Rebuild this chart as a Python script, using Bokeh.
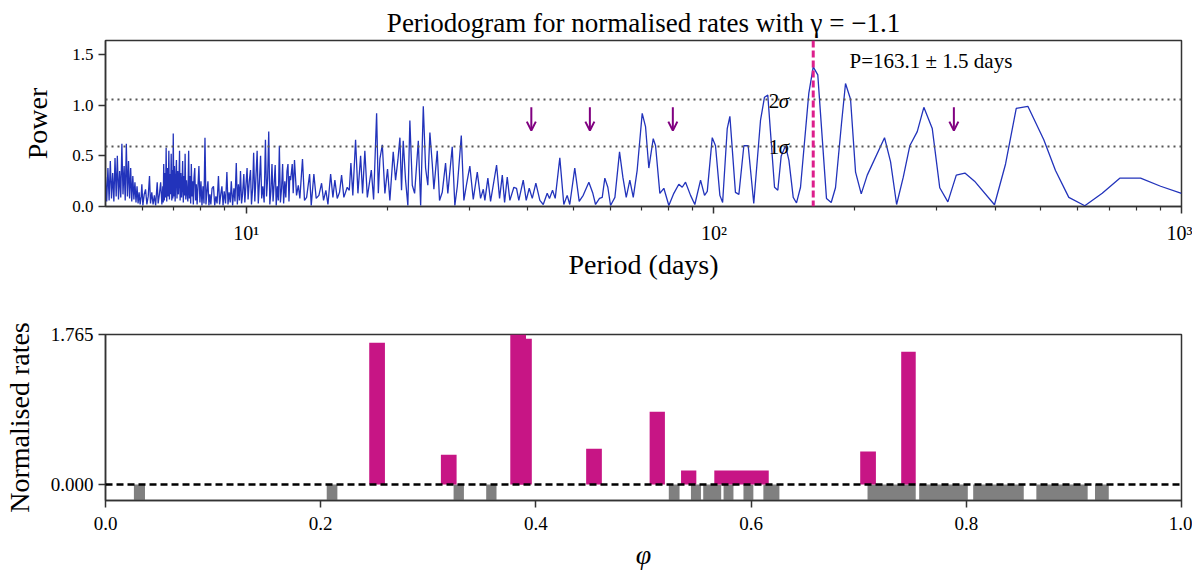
from bokeh.plotting import figure
from bokeh.layouts import column
from bokeh.models import (Span, Arrow, OpenHead, Label, FixedTicker,
                          PrintfTickFormatter, ColumnDataSource)
from bokeh.core.properties import value
from bokeh.embed import file_html
from bokeh.resources import INLINE

SERIF = "Liberation Serif"
AXIS_COL = "#333333"
BLUE = "#2233bb"
PINK = "#dd1f8c"
BAR_PINK = "#c71585"
PURPLE = "#800080"

# periodogram
period = [
    5.00, 5.03, 5.06, 5.09, 5.12, 5.15, 5.18, 5.21, 5.24, 5.27,
    5.30, 5.33, 5.36, 5.39, 5.42, 5.45, 5.48, 5.51, 5.54, 5.57,
    5.60, 5.63, 5.66, 5.69, 5.72, 5.75, 5.78, 5.81, 5.84, 5.87,
    5.90, 5.93, 5.96, 5.98, 6.01, 6.05, 6.09, 6.13, 6.17, 6.21,
    6.24, 6.28, 6.32, 6.36, 6.40, 6.45, 6.48, 6.52, 6.56, 6.60,
    6.63, 6.645, 6.66, 6.68, 6.70, 6.72, 6.74, 6.76, 6.785, 6.81,
    6.83, 6.85, 6.87, 6.89, 6.91, 6.93, 6.955, 6.965, 6.98, 7.00,
    7.02, 7.045, 7.07, 7.09, 7.11, 7.135, 7.16, 7.18, 7.20, 7.22,
    7.245, 7.27, 7.29, 7.31, 7.335, 7.36, 7.38, 7.40, 7.425, 7.45,
    7.47, 7.50, 7.53, 7.555, 7.58, 7.605, 7.63, 7.655, 7.68, 7.705,
    7.73, 7.76, 7.79, 7.82, 7.85, 7.88, 7.92, 7.96, 8.00, 8.04,
    8.08, 8.12, 8.16, 8.20, 8.24, 8.28, 8.32, 8.36, 8.40, 8.45,
    8.51, 8.56, 8.61, 8.66, 8.72, 8.77, 8.82, 8.87, 8.92, 8.97,
    9.03, 9.09, 9.14, 9.19, 9.24, 9.29, 9.35, 9.41, 9.46, 9.52,
    9.57, 9.62, 9.67, 9.72, 9.77, 9.82, 9.88, 9.93, 9.98, 10.04,
    10.09, 10.15, 10.21, 10.26, 10.32, 10.37, 10.43, 10.49, 10.55, 10.61,
    10.67, 10.73, 10.79, 10.85, 10.92, 10.99, 11.05, 11.11, 11.17, 11.23,
    11.29, 11.35, 11.41, 11.47, 11.53, 11.59, 11.65, 11.71, 11.77, 11.83,
    11.90, 11.96, 12.02, 12.09, 12.15, 12.22, 12.28, 12.34, 12.39, 12.44,
    12.54, 12.60, 12.68, 12.81, 12.92, 13.02, 13.19, 13.32, 13.46, 13.66,
    13.77, 13.95, 14.11, 14.30, 14.49, 14.63, 14.80, 14.95, 15.15, 15.32,
    15.47, 15.65, 15.83, 15.99, 16.17, 16.44, 16.61, 16.74, 16.90, 17.13,
    17.33, 17.56, 17.73, 17.93, 18.15, 18.51, 18.72, 19.00, 19.16, 19.31,
    19.54, 19.79, 20.05, 20.28, 20.62, 20.86, 21.10, 21.31, 21.48, 21.66,
    21.91, 22.16, 22.38, 22.65, 22.91, 23.33, 23.60, 23.91, 24.18, 24.45,
    24.70, 24.99, 25.19, 25.61, 25.90, 26.25, 26.68, 26.98, 27.57, 27.93,
    28.27, 28.83, 29.20, 29.59, 30.07, 30.58, 31.19, 31.70, 32.13, 32.38,
    32.86, 33.30, 34.30, 34.81, 35.28, 35.68, 36.15, 36.62, 37.35, 37.84,
    38.27, 39.11, 39.69, 40.28, 40.89, 41.62, 42.45, 43.16, 44.01, 44.51,
    45.18, 45.78, 46.83, 47.76, 48.56, 49.18, 50.41, 51.52, 52.55, 54.03,
    55.10, 55.84, 56.94, 57.71, 58.45, 59.32, 60.12, 61.42, 62.84, 63.88,
    64.95, 66.11, 67.23, 68.55, 70.26, 71.42, 72.59, 74.18, 75.04, 76.64,
    78.16, 80.11, 82.10, 84.14, 85.57, 86.97, 89.15, 91.04, 93.65, 95.5,
    96.8, 99.2, 100.8, 103.0, 104.4, 106.8, 108.2, 111.2, 113.1, 115.9,
    118.4, 121.7, 125.8, 128.3, 130.4, 134.8, 137.0, 139.3, 142.3, 144.7,
    147.8, 150.2, 153.2, 159.6, 163.1, 166.8, 174.1, 178.2, 182.0, 187.5,
    191.2, 196.0, 200.9, 206.6, 212.8, 231.7, 238.7, 245.9, 254.1, 262.4,
    272.2, 281.2, 293.1, 304.1, 316.5, 329.9, 344.2, 360.9, 398.2, 420.5,
    443.2, 469.3, 507.6, 537.7, 574.1, 621.2, 676.8, 737.9, 817.5, 902.3,
    1000.0,
]
power = [
    0.29, 0.05, 0.38, 0.06, 0.45, 0.08, 0.33, 0.05, 0.48, 0.10,
    0.50, 0.07, 0.35, 0.09, 0.62, 0.12, 0.40, 0.06, 0.62, 0.10,
    0.45, 0.08, 0.38, 0.05, 0.30, 0.07, 0.24, 0.04, 0.20, 0.03,
    0.14, 0.02, 0.10, 0.22, 0.01, 0.12, 0.17, 0.02, 0.10, 0.30,
    0.03, 0.14, 0.02, 0.11, 0.01, 0.24, 0.03, 0.12, 0.24, 0.02,
    0.20, 0.04, 0.42, 0.06, 0.33, 0.09, 0.58, 0.05, 0.38, 0.10,
    0.55, 0.07, 0.32, 0.12, 0.52, 0.06, 0.36, 0.08, 0.72, 0.10,
    0.40, 0.05, 0.30, 0.46, 0.08, 0.35, 0.12, 0.28, 0.55, 0.06,
    0.33, 0.09, 0.20, 0.45, 0.04, 0.30, 0.11, 0.52, 0.07, 0.26,
    0.14, 0.05, 0.55, 0.08, 0.30, 0.03, 0.42, 0.10, 0.25, 0.02,
    0.28, 0.38, 0.06, 0.22, 0.02, 0.18, 0.40, 0.04, 0.25, 0.01,
    0.20, 0.03, 0.68, 0.02, 0.15, 0.25, 0.01, 0.12, 0.02, 0.18,
    0.20, 0.01, 0.10, 0.03, 0.30, 0.02, 0.12, 0.20, 0.01, 0.15,
    0.03, 0.34, 0.02, 0.14, 0.04, 0.25, 0.01, 0.18, 0.05, 0.43,
    0.02, 0.22, 0.06, 0.35, 0.03, 0.12, 0.32, 0.04, 0.20, 0.38,
    0.07, 0.25, 0.36, 0.02, 0.18, 0.53, 0.05, 0.30, 0.55, 0.03,
    0.25, 0.50, 0.08, 0.20, 0.04, 0.66, 0.10, 0.28, 0.74, 0.02,
    0.15, 0.42, 0.05, 0.22, 0.41, 0.01, 0.20, 0.06, 0.60, 0.04,
    0.18, 0.42, 0.03, 0.25, 0.09, 0.35, 0.42, 0.05, 0.30, 0.26,
    0.42, 0.13, 0.46, 0.11, 0.21, 0.08, 0.47, 0.06, 0.09, 0.32,
    0.01, 0.32, 0.08, 0.11, 0.23, 0.06, 0.16, 0.02, 0.32, 0.09,
    0.26, 0.08, 0.14, 0.31, 0.09, 0.19, 0.16, 0.43, 0.11, 0.66,
    0.13, 0.50, 0.13, 0.55, 0.09, 0.36, 0.07, 0.92, 0.13, 0.47,
    0.61, 0.13, 0.37, 0.06, 0.54, 0.26, 0.46, 0.68, 0.16, 0.65,
    0.26, 0.01, 0.85, 0.21, 0.13, 0.65, 0.01, 0.99, 0.38, 0.21,
    0.73, 0.42, 0.17, 0.55, 0.06, 0.14, 0.43, 0.13, 0.59, 0.01,
    0.20, 0.70, 0.06, 0.22, 0.40, 0.07, 0.34, 0.08, 0.17, 0.06,
    0.28, 0.05, 0.41, 0.08, 0.31, 0.04, 0.29, 0.06, 0.19, 0.18,
    0.06, 0.26, 0.06, 0.18, 0.08, 0.23, 0.06, 0.02, 0.13, 0.08,
    0.16, 0.08, 0.48, 0.02, 0.11, 0.02, 0.38, 0.05, 0.11, 0.24,
    0.13, 0.02, 0.08, 0.09, 0.28, 0.19, 0.01, 0.09, 0.54, 0.29,
    0.09, 0.26, 0.09, 0.36, 0.92, 0.79, 0.38, 0.67, 0.60, 0.13,
    0.18, 0.01, 0.13, 0.22, 0.19, 0.24, 0.11, 0.02, 0.26, 0.11,
    0.15, 0.68, 0.60, 0.11, 0.04, 0.77, 0.89, 0.14, 0.12, 0.60,
    0.60, 0.03, 0.85, 1.08, 1.10, 0.19, 0.16, 0.50, 0.60, 0.455,
    0.09, 0.035, 0.19, 1.12, 1.38, 1.30, 0.08, 0.04, 0.185, 0.825,
    1.215, 1.06, 0.34, 0.125, 0.31, 0.68, 0.44, 0.02, 0.29, 0.60,
    0.74, 0.98, 0.77, 0.185, 0.046, 0.31, 0.33, 0.25, 0.017, 0.42,
    0.97, 0.99, 0.66, 0.356, 0.09, 0.007, 0.13, 0.28, 0.28, 0.20,
    0.13,
]

sigma_levels = [1.056, 0.594]
sigma_names = ["2", "1"]
best_period = 163.1
arrow_periods = [40.7, 54.3, 81.7, 326.0]

# folded light curve: positive (magenta) and negative (grey) phase bins
pos_left = [0.2451, 0.3117, 0.3815, 0.3762, 0.4467, 0.5057, 0.5349, 0.5658, 0.7014, 0.7395]
pos_right = [0.2597, 0.3263, 0.3962, 0.3908, 0.4613, 0.5199, 0.5491, 0.6164, 0.7160, 0.7530]
pos_rate = [1.667, 0.349, 1.714, 1.765, 0.420, 0.855, 0.165, 0.165, 0.388, 1.561]

neg_left = [0.0264, 0.2056, 0.3235, 0.3538, 0.5235, 0.5441, 0.5555, 0.5744,
            0.5929, 0.6114, 0.7082, 0.7562, 0.8064, 0.8651, 0.9196]
neg_right = [0.0367, 0.2155, 0.3331, 0.3634, 0.5335, 0.5534, 0.5722, 0.5836,
             0.6021, 0.6263, 0.7530, 0.8014, 0.8534, 0.9128, 0.9324]
neg_rate = [-0.19, -0.19, -0.19, -0.19, -0.19, -0.19, -0.19, -0.19,
            -0.19, -0.19, -0.19, -0.19, -0.19, -0.19, -0.19]


def style(p, tick_px):
    p.grid.visible = False
    p.outline_line_color = AXIS_COL
    p.outline_line_width = 1.5
    p.background_fill_color = "white"
    p.border_fill_color = "white"
    for ax in p.axis:
        ax.axis_line_color = AXIS_COL
        ax.axis_line_width = 1.5
        ax.major_tick_line_color = AXIS_COL
        ax.major_tick_line_width = 1.5
        ax.major_tick_in = 0
        ax.major_tick_out = 7
        ax.minor_tick_line_color = AXIS_COL
        ax.minor_tick_line_width = 1.2
        ax.minor_tick_in = 0
        ax.minor_tick_out = 4
        ax.major_label_text_font = SERIF
        ax.major_label_text_font_size = tick_px
        ax.major_label_text_color = "black"
        ax.axis_label_text_font = SERIF
        ax.axis_label_text_font_size = "28px"
        ax.axis_label_text_font_style = "normal"
        ax.axis_label_text_color = "black"


# ---- top panel: periodogram
p1 = figure(width=1192, height=298, x_axis_type="log",
            x_range=(5, 1000), y_range=(0, 1.64),
            output_backend="svg", toolbar_location=None,
            min_border_left=105, min_border_right=11,
            min_border_top=40, min_border_bottom=92,
            title="Periodogram for normalised rates with \u03b3 = \u22121.1",
            x_axis_label="Period (days)", y_axis_label="Power")
p1.title.align = "center"
p1.title.text_font = SERIF
p1.title.text_font_size = "27px"
p1.title.text_font_style = "normal"
p1.title.text_color = "black"
p1.title.standoff = 6
style(p1, "17px")

p1.xaxis.ticker = FixedTicker(ticks=[10, 100, 1000],
                              minor_ticks=[6, 7, 8, 9, 20, 30, 40, 50, 60, 70, 80, 90,
                                           200, 300, 400, 500, 600, 700, 800, 900])
p1.xaxis.major_label_overrides = {10: "10\u00b9", 100: "10\u00b2", 1000: "10\u00b3"}
p1.xaxis.major_label_text_font_size = "20px"
p1.xaxis.major_label_standoff = 8
p1.xaxis.axis_label_standoff = 2
p1.yaxis.ticker = FixedTicker(ticks=[0, 0.5, 1.0, 1.5])
p1.yaxis.formatter = PrintfTickFormatter(format="%.1f")
p1.yaxis.minor_tick_line_color = None
p1.yaxis.axis_label_standoff = 16

for lev in sigma_levels:
    p1.add_layout(Span(location=lev, dimension="width", line_color="#555555",
                       line_width=2, line_dash="2 4"))
p1.add_layout(Span(location=best_period, dimension="height", line_color=PINK,
                   line_width=3, line_dash="7 3"))

p1.line(period, power, line_color=BLUE, line_width=1.3)

sig_src = ColumnDataSource(dict(x=[131, 131], y=sigma_levels, t=sigma_names,
                                s=["\u03c3", "\u03c3"]))
p1.text(x="x", y="y", text="t", source=sig_src, text_font=value(SERIF),
        text_font_size=value("21px"), text_baseline="alphabetic", y_offset=1)
p1.text(x="x", y="y", text="s", source=sig_src, text_font=value(SERIF),
        text_font_size=value("21px"), text_font_style="italic",
        text_baseline="alphabetic", x_offset=10, y_offset=1)

p1.add_layout(Label(x=195, y=1.435, text="P=163.1 \u00b1 1.5 days",
                    text_font=SERIF, text_font_size="21px",
                    text_baseline="middle", text_color="black"))

arr_src = ColumnDataSource(dict(x=arrow_periods, y0=[0.98] * 4, y1=[0.75] * 4))
p1.add_layout(Arrow(end=OpenHead(size=9, line_color=PURPLE, line_width=2),
                    x_start="x", y_start="y0", x_end="x", y_end="y1",
                    source=arr_src, line_color=PURPLE, line_width=2))

# ---- bottom panel: folded rates
p2 = figure(width=1192, height=277, x_range=(0, 1), y_range=(-0.188, 1.765),
            output_backend="svg", toolbar_location=None,
            min_border_left=105, min_border_right=11,
            min_border_top=36, min_border_bottom=75,
            x_axis_label="\u03c6", y_axis_label="Normalised rates")
style(p2, "19px")
p2.xaxis.ticker = FixedTicker(ticks=[0, 0.2, 0.4, 0.6, 0.8, 1.0])
p2.xaxis.formatter = PrintfTickFormatter(format="%.1f")
p2.xaxis.axis_label_text_font_style = "italic"
p2.xaxis.major_label_standoff = 9
p2.xaxis.axis_label_standoff = 6
p2.yaxis.ticker = FixedTicker(ticks=[0, 1.765])
p2.yaxis.formatter = PrintfTickFormatter(format="%.3f")
p2.yaxis.axis_label_standoff = 13
p2.xaxis.minor_tick_line_color = None
p2.yaxis.minor_tick_line_color = None

p2.quad(left=neg_left, right=neg_right, bottom=0, top=neg_rate,
        fill_color="#808080", line_color=None)
p2.quad(left=pos_left, right=pos_right, bottom=0, top=pos_rate,
        fill_color=BAR_PINK, line_color=None)
p2.add_layout(Span(location=0, dimension="width", line_color="black",
                   line_width=2.5, line_dash="7 4"))

layout = column(p1, p2)
open("out.html", "w").write(file_html(layout, INLINE))
